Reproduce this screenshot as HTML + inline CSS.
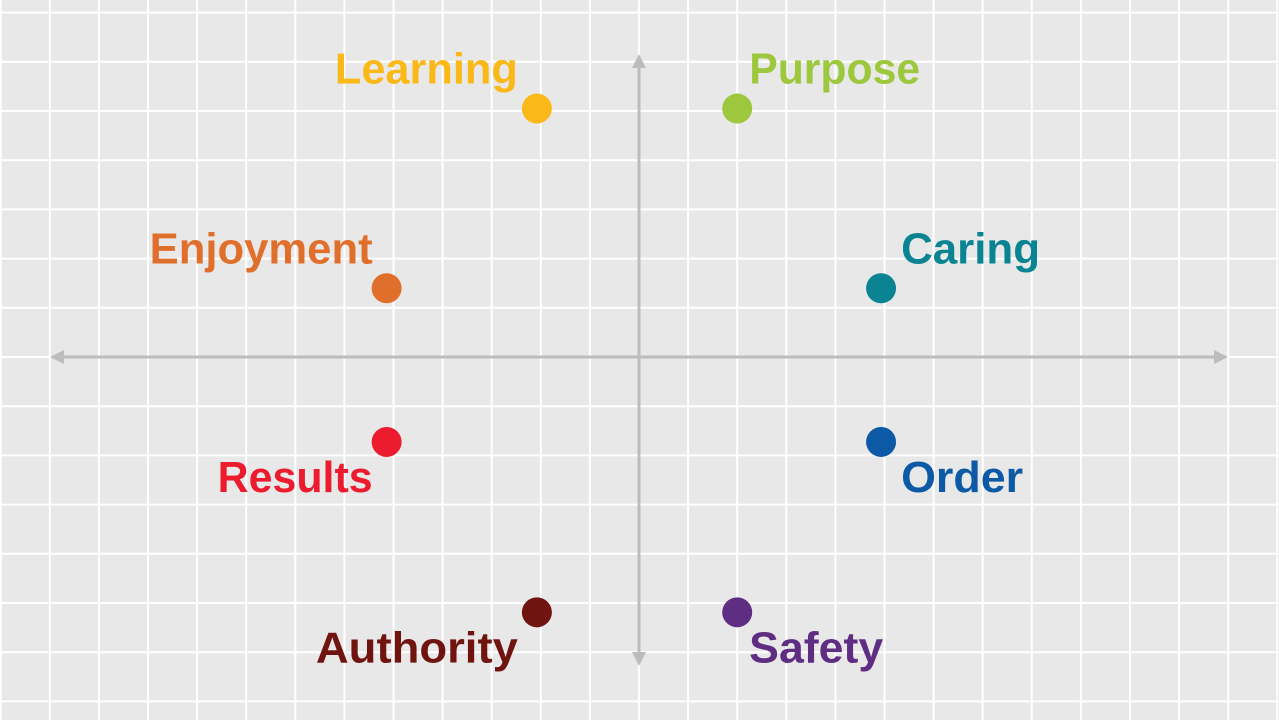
<!DOCTYPE html>
<html><head><meta charset="utf-8"><style>
html,body{margin:0;padding:0;background:#e8e8e8;}
svg{display:block;}
text{font-family:"Liberation Sans",sans-serif;font-weight:bold;font-size:44px;}
</style></head><body>
<svg id="chart" width="1279" height="720" viewBox="0 0 1279 720">
<rect x="0" y="0" width="1279" height="720" fill="#e8e8e8"/>
<g id="grid"></g>
<g id="axes">
<line x1="52" y1="357" x2="1226" y2="357" stroke="#bcbcbc" stroke-width="3"/>
<polygon points="50,357 64,350 64,364" fill="#bcbcbc"/>
<polygon points="1228,357 1214,350 1214,364" fill="#bcbcbc"/>
<line x1="639" y1="57" x2="639" y2="663" stroke="#bcbcbc" stroke-width="3"/>
<polygon points="639,54 632,68 646,68" fill="#bcbcbc"/>
<polygon points="639,666 632,652 646,652" fill="#bcbcbc"/>
</g>
<g id="points"></g>
</svg>
<script>
const labels = ["Learning","Purpose","Enjoyment","Caring","Results","Order","Authority","Safety"];
const xValues = [-2.08, 2.0, -5.14, 4.93, -5.14, 4.93, -2.08, 2.0];
const yValues = [5.06, 5.06, 1.4, 1.4, -1.73, -1.73, -5.2, -5.2];
const colors = ["#fbb919","#9dc83e","#e06f2c","#0a8492","#ec1c2e","#0c5aa6","#701410","#5f2d82"];
const labelWidths = [183,171,223,139,155,122,202,134];

const NS = "http://www.w3.org/2000/svg";
const cx = 639, cy = 357, unit = 49.1;
function sx(v){return cx + v*unit;}
function sy(v){return cy - v*unit;}

const grid = document.getElementById('grid');
for (let k=-13;k<=13;k++){
  const x = cx + k*unit;
  if (x<-2||x>1281) continue;
  const l = document.createElementNS(NS,'line');
  l.setAttribute('x1',x);l.setAttribute('x2',x);l.setAttribute('y1',0);l.setAttribute('y2',720);
  l.setAttribute('stroke','#ffffff');l.setAttribute('stroke-width','2');
  
  
  grid.appendChild(l);
}
for (let k=-8;k<=8;k++){
  const y = cy + k*49.2;
  if (y<-2||y>722) continue;
  const l = document.createElementNS(NS,'line');
  l.setAttribute('y1',y);l.setAttribute('y2',y);l.setAttribute('x1',0);l.setAttribute('x2',1279);
  l.setAttribute('stroke','#ffffff');l.setAttribute('stroke-width','2');
  
  
  grid.appendChild(l);
}

const pts = document.getElementById('points');
labels.forEach((name,i)=>{
  const px = sx(xValues[i]), py = sy(yValues[i]);
  const c = document.createElementNS(NS,'circle');
  c.setAttribute('cx',px);c.setAttribute('cy',py);c.setAttribute('r',15);c.setAttribute('fill',colors[i]);
  
  
  pts.appendChild(c);
  const t = document.createElementNS(NS,'text');
  const left = xValues[i] < 0;
  const above = yValues[i] > 0;
  const far = Math.abs(xValues[i]) > 3;
  let tx, ty;
  if (left) { tx = px - (far ? 14 : 19); t.setAttribute('text-anchor','end'); }
  else { tx = px + (far ? 20 : 12); t.setAttribute('text-anchor','start'); }
  ty = above ? py - 25 : py + 50;
  t.setAttribute('x',tx);t.setAttribute('y',ty);
  t.setAttribute('fill',colors[i]);
  t.setAttribute('textLength',labelWidths[i]);
  t.setAttribute('lengthAdjust','spacingAndGlyphs');
  t.textContent = name;
  
  
  pts.appendChild(t);
});
</script>
</body></html>
